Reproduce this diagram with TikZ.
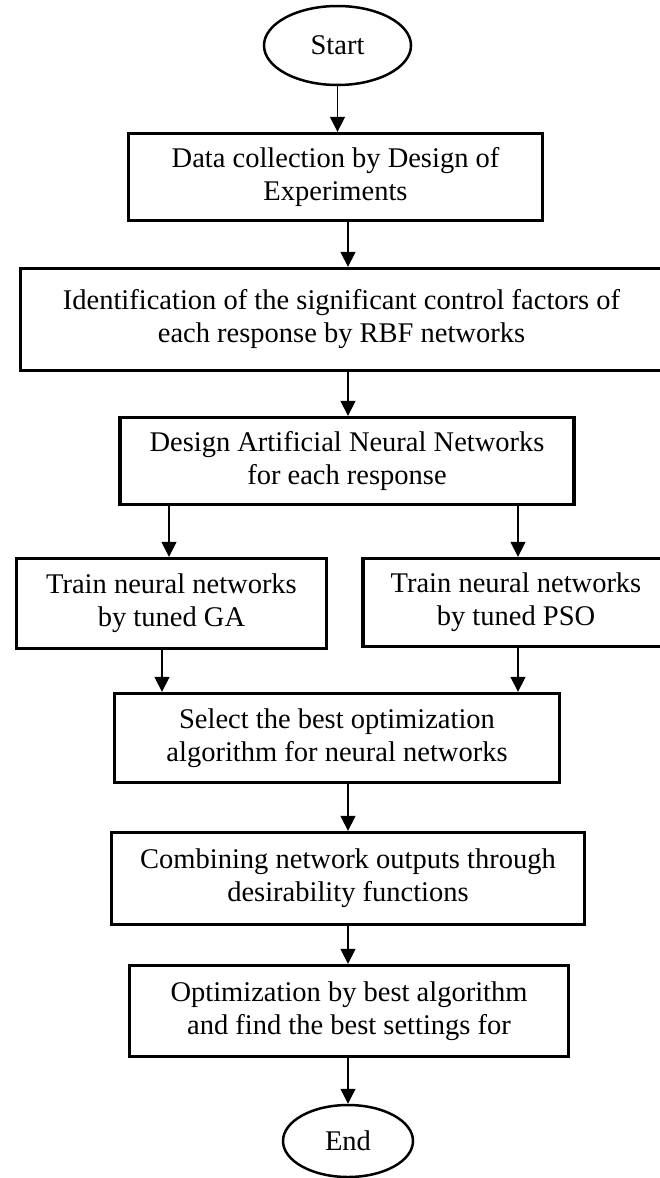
\documentclass[tikz,border=0pt]{standalone}
\usepackage{fontspec}
\setmainfont{Liberation Serif}
\usetikzlibrary{positioning, arrows.meta, shapes.geometric}

\begin{document}
\begin{tikzpicture}[
  x=1pt, y=-1pt,
  every node/.style={font=\fontsize{28.5}{33}\selectfont, align=center, inner sep=0pt},
  box/.style={draw, line width=3.3pt},
  term/.style={draw, ellipse, line width=2.5pt},
  arr/.style={-{Triangle[length=15pt, width=15pt]}, line width=1.3pt},
]
\useasboundingbox (0,0) rectangle (659,1178);

\node[term, minimum width=147pt, minimum height=79pt] (start) at (337.5,45.5) {Start};
\node[box, minimum width=414pt, minimum height=87pt] (data) at (335.5,177) {Data collection by Design of\\Experiments};
\node[box, minimum width=642pt, minimum height=102pt] (ident) at (341.5,319.5) {Identification of the significant control factors of\\each response by RBF networks};
\node[box, minimum width=454pt, minimum height=87pt] (ann) at (347,461) {Design Artificial Neural Networks\\for each response};
\node[box, minimum width=310pt, minimum height=90pt] (ga) at (171.5,603.5) {Train neural networks\\by tuned GA};
\node[box, minimum width=306pt, minimum height=88pt] (pso) at (516,602.5) {Train neural networks\\by tuned PSO};
\node[box, minimum width=445pt, minimum height=89pt] (select) at (337,738) {Select the best optimization\\algorithm for neural networks};
\node[box, minimum width=473pt, minimum height=92pt] (comb) at (348,878.5) {Combining network outputs through\\desirability functions};
\node[box, minimum width=439pt, minimum height=91pt] (optim) at (349,1011) {Optimization by best algorithm\\and find the best settings for};
\node[term, minimum width=130pt, minimum height=72pt] (end) at (348,1141) {End};

% arrow columns
\coordinate (mid) at (348,0);
\coordinate (gaIn) at (169,0);
\coordinate (gaOut) at (162,0);
\coordinate (psoX) at (518,0);

\draw[arr] (start.south) -- (data.north -| start.south);
\draw[arr] (data.south -| mid) -- (ident.north -| mid);
\draw[arr] (ident.south -| mid) -- (ann.north -| mid);
\draw[arr] (ann.south -| gaIn) -- (ga.north -| gaIn);
\draw[arr] (ann.south -| psoX) -- (pso.north -| psoX);
\draw[arr] (ga.south -| gaOut) -- (select.north -| gaOut);
\draw[arr] (pso.south -| psoX) -- (select.north -| psoX);
\draw[arr] (select.south -| mid) -- (comb.north -| mid);
\draw[arr] (comb.south -| mid) -- (optim.north -| mid);
\draw[arr] (optim.south -| mid) -- (end.north -| mid);
\end{tikzpicture}
\end{document}
